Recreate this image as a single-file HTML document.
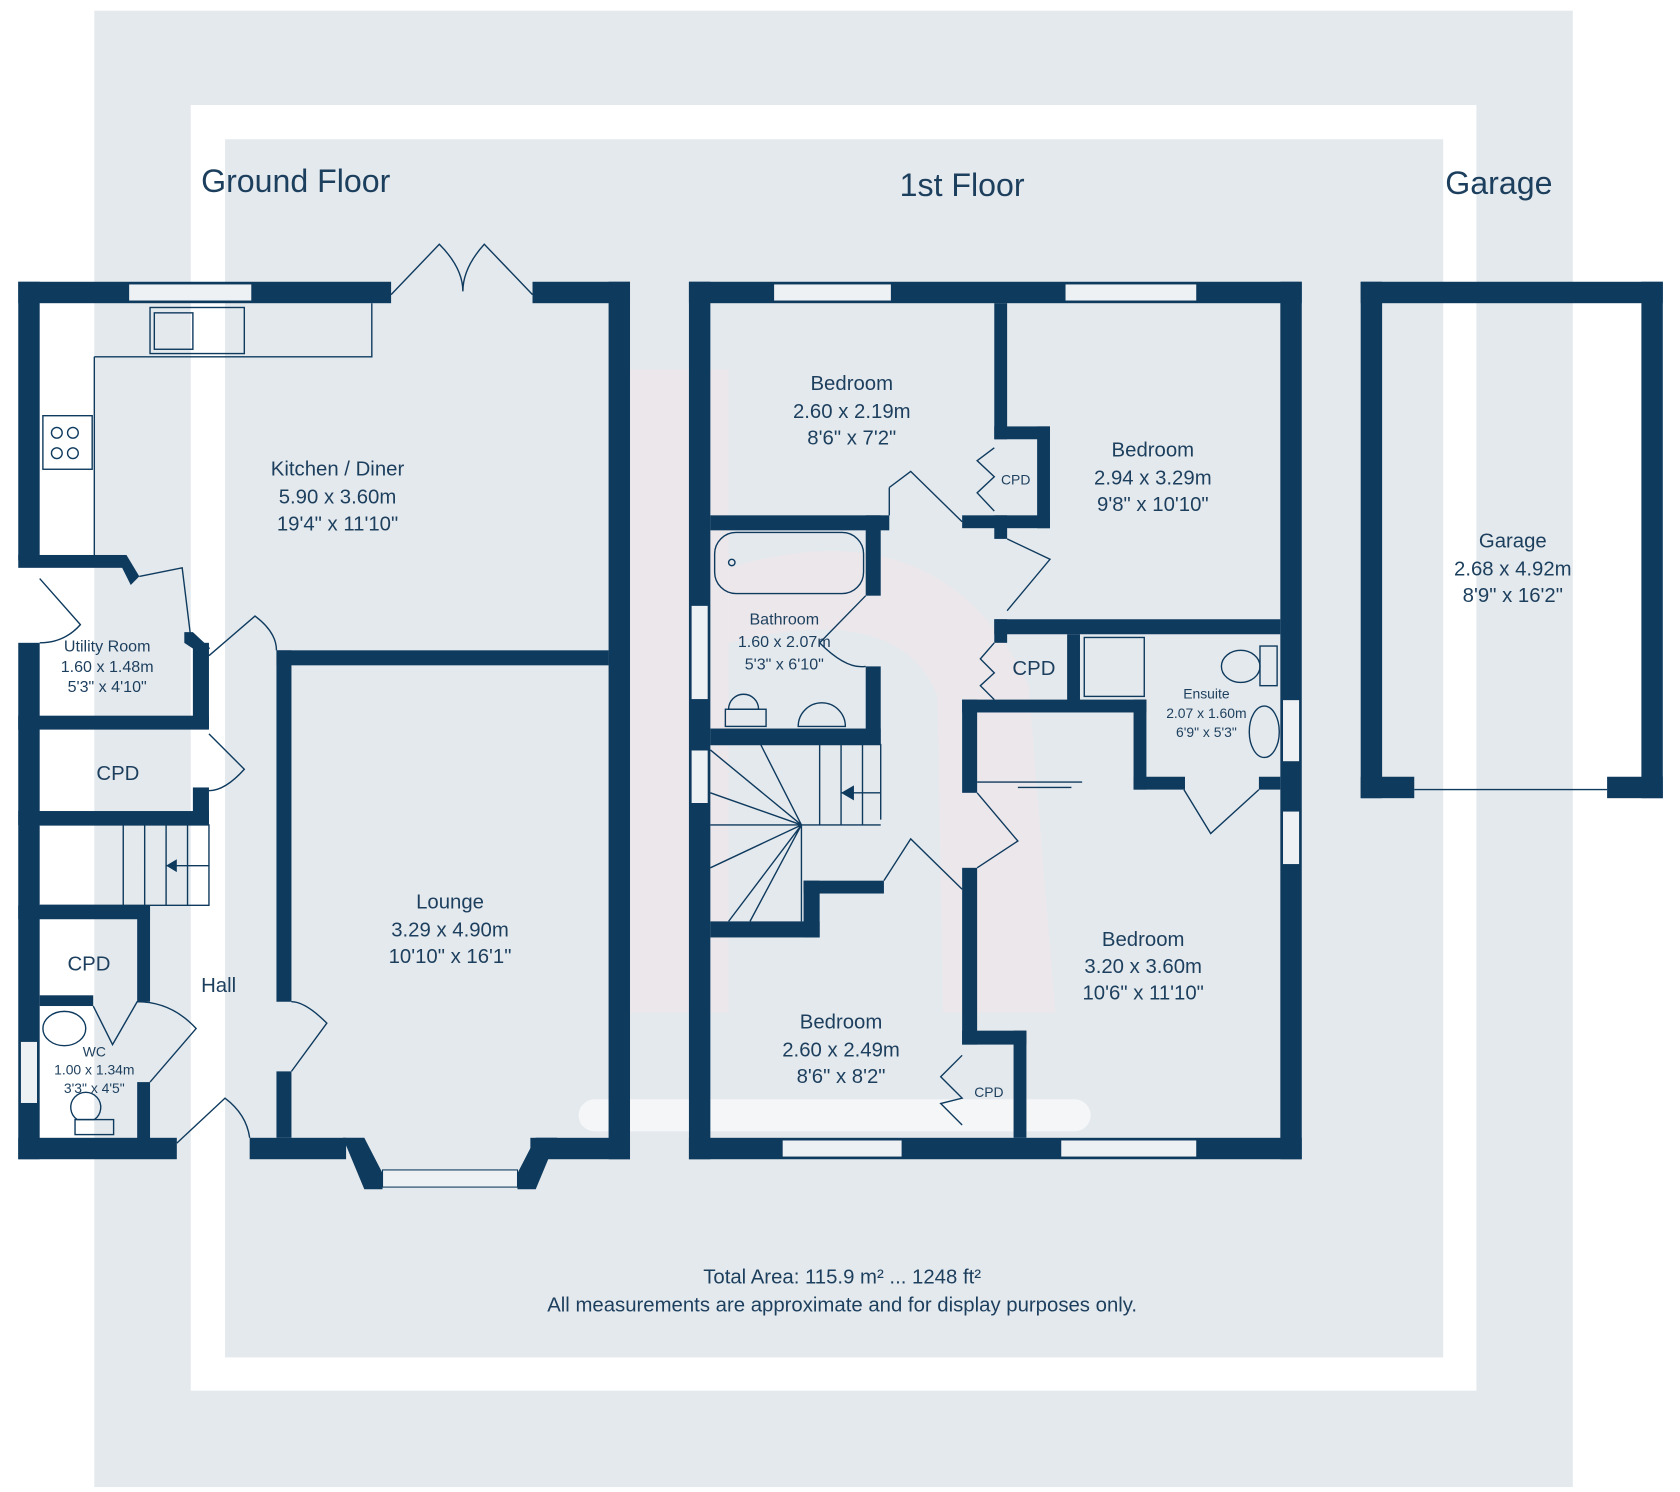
<!DOCTYPE html>
<html><head><meta charset="utf-8"><style>
html,body{margin:0;padding:0;background:#fff;}
svg{display:block}
text{font-family:"Liberation Sans",sans-serif;fill:#1d3f5e;text-anchor:middle}
</style></head><body>
<svg width="1680" height="1492" viewBox="0 0 1568 1392.6" xmlns="http://www.w3.org/2000/svg">
<rect x="0" y="0" width="1568" height="1393" fill="#fff"/>
<rect x="88" y="10" width="1380" height="1378" fill="#e4e9ed"/>
<rect x="178" y="98" width="1200" height="1200" fill="#fff"/>
<rect x="210" y="130" width="1137" height="1137" fill="#e4e9ed"/>
<!-- watermark -->
<g fill="#f3e6ea" opacity="0.55">
<rect x="585" y="345" width="95" height="600"/>
<path d="M680 530 Q880 470 960 640 L985 945 L880 945 L875 650 Q840 560 680 600Z"/>
</g>
<rect x="540" y="1026" width="478" height="30" rx="15" fill="#f4f6f8"/>
<text x="276" y="179" font-size="30">Ground Floor</text>
<text x="898" y="183" font-size="30">1st Floor</text>
<text x="1399" y="181" font-size="30">Garage</text>
<g fill="#0e3a5e">
<rect x="17" y="263" width="348" height="20"/>
<rect x="497" y="263" width="91" height="20"/>
<rect x="568" y="263" width="20" height="819"/>
<rect x="17" y="263" width="20" height="260"/>
<rect x="17" y="600" width="20" height="482"/>
<rect x="17" y="1062" width="148" height="20"/>
<rect x="233" y="1062" width="90" height="20"/>
<rect x="495" y="1062" width="93" height="20"/>
<polygon points="320,1062 340,1062 357,1095 357,1110 340,1110"/>
<polygon points="500,1062 520,1062 500,1110 483,1110 483,1095"/>
<rect x="17" y="518" width="100" height="12"/>
<polygon points="108,518 118,518 130,538 122,546"/>
<polygon points="172,590 180,590 196,605 190,612 172,600"/>
<rect x="180" y="600" width="15" height="80"/>
<rect x="17" y="668" width="178" height="13"/>
<rect x="180" y="735" width="15" height="35"/>
<rect x="17" y="757" width="178" height="13"/>
<rect x="17" y="845" width="123" height="13"/>
<rect x="128" y="845" width="12" height="90"/>
<rect x="37" y="929" width="50" height="10"/>
<rect x="128" y="1010" width="12" height="55"/>
<rect x="258" y="607" width="310" height="14"/>
<rect x="258" y="607" width="14" height="328"/>
<rect x="258" y="1000" width="14" height="62"/>
<rect x="643" y="263" width="572" height="20"/>
<rect x="643" y="263" width="20" height="819"/>
<rect x="1195" y="263" width="20" height="819"/>
<rect x="643" y="1062" width="572" height="20"/>
<rect x="928" y="283" width="12" height="127"/>
<rect x="928" y="398" width="52" height="12"/>
<rect x="968" y="398" width="12" height="95"/>
<rect x="898" y="481" width="82" height="12"/>
<rect x="928" y="481" width="12" height="22"/>
<rect x="663" y="481" width="167" height="14"/>
<rect x="808" y="481" width="14" height="75"/>
<rect x="808" y="622" width="14" height="73"/>
<rect x="663" y="680" width="159" height="15"/>
<rect x="663" y="860" width="102" height="15"/>
<rect x="750" y="822" width="15" height="53"/>
<rect x="750" y="822" width="75" height="12"/>
<rect x="928" y="578" width="267" height="14"/>
<rect x="928" y="578" width="12" height="22"/>
<rect x="996" y="592" width="12" height="63"/>
<rect x="898" y="653" width="172" height="12"/>
<rect x="1058" y="653" width="12" height="84"/>
<rect x="1058" y="725" width="48" height="12"/>
<rect x="1175" y="725" width="20" height="12"/>
<rect x="898" y="653" width="14" height="87"/>
<rect x="898" y="810" width="14" height="165"/>
<rect x="898" y="962" width="60" height="13"/>
<rect x="946" y="962" width="12" height="100"/>
<rect x="1270" y="263" width="282" height="20"/>
<rect x="1270" y="263" width="20" height="482"/>
<rect x="1532" y="263" width="20" height="482"/>
<rect x="1270" y="725" width="50" height="20"/>
<rect x="1500" y="725" width="52" height="20"/>
</g>
<g fill="#eef1f4" stroke="#0e3a5e" stroke-width="1">
<rect x="120" y="265" width="115" height="16"/>
<rect x="357" y="1092" width="126" height="16"/>
<rect x="19" y="972" width="16" height="58"/>
<rect x="722" y="265" width="110" height="16"/>
<rect x="994" y="265" width="123" height="16"/>
<rect x="730" y="1064" width="112" height="16"/>
<rect x="990" y="1064" width="127" height="16"/>
<rect x="645" y="565" width="16" height="88"/>
<rect x="645" y="700" width="16" height="50"/>
<rect x="1197" y="653" width="16" height="58"/>
<rect x="1197" y="757" width="16" height="50"/>
</g>
<g fill="none" stroke="#0e3a5e" stroke-width="1.3">
<path d="M88 333 H347 V283 M88 333 V520"/>
<rect x="140" y="287" width="88" height="43"/><rect x="144" y="292" width="36" height="34"/>
<rect x="40" y="388" width="46" height="50"/>
<circle cx="53" cy="404" r="5"/><circle cx="68" cy="404" r="5"/><circle cx="53" cy="423" r="5"/><circle cx="68" cy="423" r="5"/>
<path d="M365 275 L410 228 Q432 250 432 272 M497 275 L452 228 Q432 250 432 272"/>
<path d="M37 540 L75 583 Q60 600 37 600"/>
<path d="M130 538 L170 530 L178 595"/>
<path d="M195 612 L238 575 Q258 590 258 607"/>
<path d="M195 685 L228 718 Q210 738 195 738"/>
<path d="M37 770 H195 V845 H37 M115 770 V845 M135 770 V845 M155 770 V845 M175 770 V845 M155 808 H195"/>
<path d="M87 939 L105 975 L128 935 Q160 935 183 960 L140 1010"/>
<ellipse cx="60" cy="960" rx="20" ry="16"/>
<path d="M72 1045 a14 14 0 1 1 16 0 Z"/><rect x="70" y="1045" width="36" height="14"/>
<path d="M165 1067 L210 1025 Q230 1040 233 1062"/>
<path d="M272 1000 L305 955 Q285 935 272 935"/>
<rect x="667" y="497" width="139" height="57" rx="20"/><circle cx="683" cy="525" r="3"/>
<path d="M808 556 L765 600 Q790 625 808 622"/>
<path d="M830 455 L850 440 L898 487 M830 455 Q830 470 830 481"/>
<path d="M928 418 L912 430 L928 445 L912 460 L928 477"/>
<path d="M940 503 L980 522 L940 570"/>
<path d="M928 600 L915 615 L928 628 L915 640 L928 653"/>
<rect x="1012" y="595" width="56" height="55"/>
<ellipse cx="1158" cy="622" rx="18" ry="15"/><rect x="1176" y="603" width="16" height="37"/>
<ellipse cx="1180" cy="683" rx="14" ry="24"/>
<path d="M680 662 a14 14 0 1 1 28 0 Z"/><rect x="677" y="662" width="38" height="16"/>
<path d="M745 678 a22 22 0 0 1 44 0 Z"/>
<path d="M663 695 H822 V765 M765 695 V770 M785 695 V770 M805 695 V770 M785 740 H822 M748 770 V860 M748 770 H822 M663 770 L748 770 M748 770 L680 860 M748 770 L663 700 M748 770 L710 695 M748 770 L663 740 M748 770 L663 810 M748 770 L700 860"/>
<path d="M825 822 L850 783 L898 830"/>
<path d="M912 740 L950 785 L912 810"/>
<path d="M912 730 H1010 M950 735 H1000"/>
<path d="M1105 737 L1130 778 L1175 737"/>
<path d="M898 985 L878 1005 L898 1025 L878 1030 L898 1050"/>
<path d="M1320 737 H1500"/>
</g>
<polygon points="155,808 165,802 165,814" fill="#0e3a5e"/>
<polygon points="785,740 797,733 797,747" fill="#0e3a5e"/>
<g font-size="19">
<text x="315" y="444">Kitchen / Diner</text><text x="315" y="470">5.90 x 3.60m</text><text x="315" y="495">19'4" x 11'10"</text>
<text x="420" y="848">Lounge</text><text x="420" y="874">3.29 x 4.90m</text><text x="420" y="899">10'10" x 16'1"</text>
<text x="110" y="728">CPD</text><text x="83" y="906">CPD</text><text x="204" y="926">Hall</text>
<text x="795" y="364">Bedroom</text><text x="795" y="390">2.60 x 2.19m</text><text x="795" y="415">8'6" x 7'2"</text>
<text x="1076" y="426">Bedroom</text><text x="1076" y="452">2.94 x 3.29m</text><text x="1076" y="477">9'8" x 10'10"</text>
<text x="965" y="630">CPD</text>
<text x="1067" y="883">Bedroom</text><text x="1067" y="908">3.20 x 3.60m</text><text x="1067" y="933">10'6" x 11'10"</text>
<text x="785" y="960">Bedroom</text><text x="785" y="986">2.60 x 2.49m</text><text x="785" y="1011">8'6" x 8'2"</text>
<text x="1412" y="511">Garage</text><text x="1412" y="537">2.68 x 4.92m</text><text x="1412" y="562">8'9" x 16'2"</text>
<text x="786" y="1198">Total Area: 115.9 m² ... 1248 ft²</text>
<text x="786" y="1224">All measurements are approximate and for display purposes only.</text>
</g>
<g font-size="15">
<text x="100" y="608">Utility Room</text><text x="100" y="627">1.60 x 1.48m</text><text x="100" y="646">5'3" x 4'10"</text>
<text x="732" y="583">Bathroom</text><text x="732" y="604">1.60 x 2.07m</text><text x="732" y="625">5'3" x 6'10"</text>
</g>
<g font-size="13">
<text x="88" y="986">WC</text><text x="88" y="1003">1.00 x 1.34m</text><text x="88" y="1020">3'3" x 4'5"</text>
<text x="1126" y="652">Ensuite</text><text x="1126" y="670">2.07 x 1.60m</text><text x="1126" y="688">6'9" x 5'3"</text>
<text x="948" y="452">CPD</text><text x="923" y="1024">CPD</text>
</g>
</svg>
</body></html>
